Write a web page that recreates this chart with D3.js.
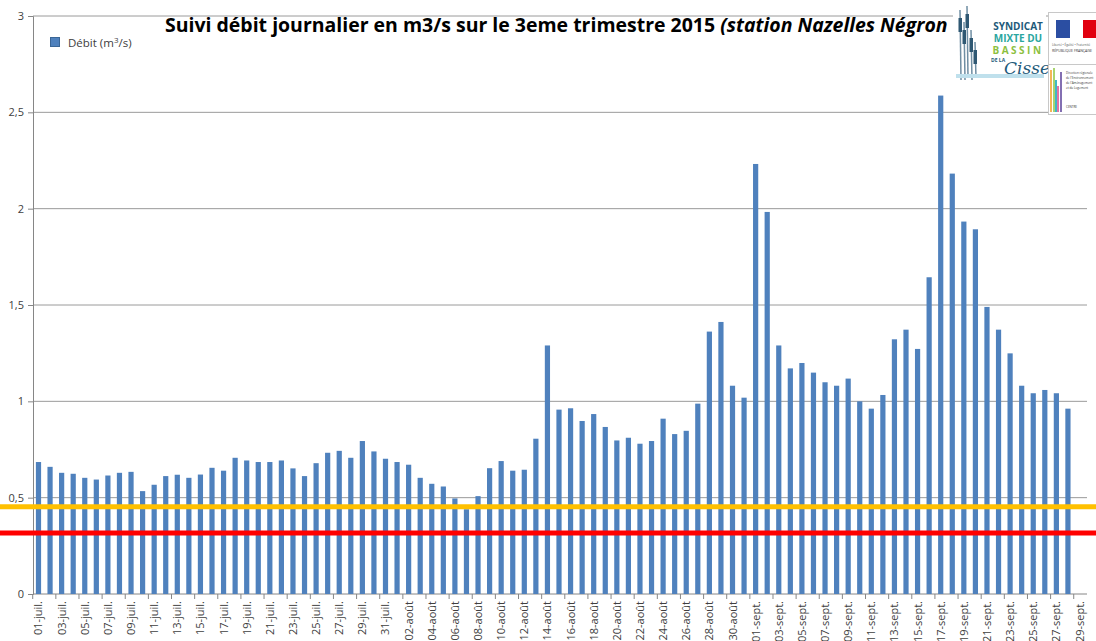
<!doctype html>
<html>
<head>
    <meta charset="utf-8">
    <script src="https://d3js.org/d3.v7.min.js"></script>
</head>
<style>
    body { margin: 0; background: #fff; }
    svg text { font-family: "Open Sans", "DejaVu Sans", sans-serif; fill: #404040; }
</style>
<body>
<script>
    // daily flow, m3/s
    var monthNames = ["juil.", "août", "sept."];
    var monthDays = [31, 31, 29];
    var julyValues = [0.685, 0.66, 0.629, 0.624, 0.603, 0.594, 0.615, 0.629, 0.634, 0.534,
                      0.567, 0.612, 0.619, 0.603, 0.62, 0.655, 0.64, 0.707, 0.693, 0.685,
                      0.685, 0.693, 0.652, 0.612, 0.679, 0.733, 0.743, 0.707, 0.794, 0.74, 0.702];
    var augustValues = [0.685, 0.671, 0.603, 0.572, 0.558, 0.496, 0.44, 0.508, 0.653, 0.69,
                        0.64, 0.645, 0.806, 1.29, 0.957, 0.964, 0.898, 0.934, 0.867, 0.797,
                        0.811, 0.78, 0.794, 0.91, 0.83, 0.847, 0.988, 1.362, 1.412, 1.081, 1.019];
    var septemberValues = [2.232, 1.983, 1.29, 1.171, 1.199, 1.149, 1.099, 1.081, 1.118, 1.0,
                           0.962, 1.033, 1.322, 1.372, 1.272, 1.644, 2.587, 2.182, 1.933, 1.893,
                           1.49, 1.372, 1.249, 1.081, 1.042, 1.059, 1.042, 0.962, null];
    var yTicks = [0, 0.5, 1, 1.5, 2, 2.5, 3];
    var alertLevel = 0.453;   // yellow line
    var crisisLevel = 0.316;  // red line

    var days = [];
    monthNames.forEach(function(m, mi) {
        for (var d = 1; d <= monthDays[mi]; d++) {
            days.push((d < 10 ? "0" : "") + d + "-" + m);
        }
    });
    var values = julyValues.concat(augustValues, septemberValues);
    var data = days.map(function(d, i) { return { day: d, value: values[i] }; });

    var width = 1096, height = 641;
    var svg = d3.select("body").append("svg")
        .attr("width", width)
        .attr("height", height);

    var x = d3.scaleBand().domain(days).range([33, 1085]).paddingInner(0.55).paddingOuter(0.25);
    var y = d3.scaleLinear().domain([0, 3]).range([594, 16]);

    // gridlines
    svg.selectAll("line.grid")
        .data(yTicks)
        .enter().append("line")
        .attr("class", "grid")
        .attr("x1", 33).attr("x2", 1087)
        .attr("y1", function(d) { return y(d); })
        .attr("y2", function(d) { return y(d); })
        .attr("stroke", function(d) { return d === 0 ? "#868686" : "#9a9a9a"; })
        .attr("stroke-width", 1);

    // y axis
    var yAxis = svg.append("g")
        .attr("transform", "translate(33,0)")
        .call(d3.axisLeft(y).tickValues(yTicks).tickSize(5)
            .tickFormat(function(d) { return String(d).replace(".", ","); }));
    yAxis.select(".domain").attr("stroke", "#868686");
    yAxis.selectAll(".tick line").attr("stroke", "#868686");
    yAxis.selectAll(".tick text").attr("x", -9).style("font-size", "11px").attr("fill", "#404040");

    // bars
    svg.selectAll("rect.bar")
        .data(data.filter(function(d) { return d.value != null; }))
        .enter().append("rect")
        .attr("class", "bar")
        .attr("x", function(d) { return x(d.day); })
        .attr("width", x.bandwidth())
        .attr("y", function(d) { return y(d.value); })
        .attr("height", function(d) { return y(0) - y(d.value); })
        .attr("fill", "#4F81BD");

    // x axis: tick every 2 days, label on odd positions
    var step = x.step();
    var xg = svg.append("g");
    xg.selectAll("line.xtick")
        .data(days.filter(function(d, i) { return i % 2 === 0; }))
        .enter().append("line")
        .attr("x1", function(d) { return x(d) - step * 0.275; })
        .attr("x2", function(d) { return x(d) - step * 0.275; })
        .attr("y1", 594).attr("y2", 599)
        .attr("stroke", "#868686");
    xg.selectAll("text")
        .data(days.filter(function(d, i) { return i % 2 === 0; }))
        .enter().append("text")
        .attr("transform", function(d) {
            return "translate(" + (x(d) + x.bandwidth() / 2 + 4) + ",601) rotate(-90)";
        })
        .attr("text-anchor", "end")
        .style("font-size", "11px")
        .text(function(d) { return d; });

    // threshold lines across the whole picture
    svg.append("line")
        .attr("x1", 0).attr("x2", width)
        .attr("y1", y(alertLevel)).attr("y2", y(alertLevel))
        .attr("stroke", "#FFC000").attr("stroke-width", 5);
    svg.append("line")
        .attr("x1", 0).attr("x2", width)
        .attr("y1", y(crisisLevel)).attr("y2", y(crisisLevel))
        .attr("stroke", "#FF0000").attr("stroke-width", 5);

    // legend
    svg.append("rect")
        .attr("x", 50.5).attr("y", 37.5).attr("width", 9).attr("height", 9)
        .attr("fill", "#4F81BD").attr("stroke", "#3A6696");
    svg.append("text")
        .attr("x", 68).attr("y", 47)
        .style("font-size", "11.5px")
        .html("Débit (m<tspan dy='-4' style='font-size:8px'>3</tspan><tspan dy='4'>/s)</tspan>");

    // title
    var title = svg.append("text")
        .attr("x", 165).attr("y", 32)
        .style("font-size", "18px")
        .style("font-weight", "bold")
        .style("fill", "#000");
    title.append("tspan").text("Suivi débit journalier en m3/s sur le 3eme trimestre 2015 ");
    title.append("tspan").style("font-style", "italic").text("(station Nazelles Négron");
    var tw = title.node().getComputedTextLength();
    title.style("font-size", (18 * 783 / tw) + "px");

    // logos (rough)
    var logo = svg.append("g");
    logo.append("rect").attr("x", 953).attr("y", 4).attr("width", 93).attr("height", 82).attr("fill", "#fff");
    [[960, 10, 80], [964, 22, 80], [967, 6, 78], [971, 30, 80], [975, 42, 78]].forEach(function(r) {
        logo.append("line").attr("x1", r[0]).attr("x2", r[0] + 1).attr("y1", r[1]).attr("y2", r[2])
            .attr("stroke", "#6f8ea3").attr("stroke-width", 1.5);
        logo.append("rect").attr("x", r[0] - 1.5).attr("y", r[1] + 8).attr("width", 3.5).attr("height", 14)
            .attr("fill", "#2f5873");
    });
    logo.append("rect").attr("x", 956).attr("y", 74).attr("width", 88).attr("height", 4).attr("fill", "#bfe0ec");
    var logoTexts = [
        { t: "SYNDICAT", y: 30, c: "#1d5a7a", ls: "0px" },
        { t: "MIXTE DU", y: 42, c: "#2aa6a0", ls: "0px" },
        { t: "BASSIN", y: 54, c: "#8dbf3f", ls: "2.5px" }
    ];
    logoTexts.forEach(function(l) {
        logo.append("text").attr("x", 1018).attr("y", l.y).attr("text-anchor", "middle")
            .style("font-size", "10px").style("font-weight", "bold").style("letter-spacing", l.ls)
            .style("fill", l.c).text(l.t);
    });
    logo.append("text").attr("x", 991).attr("y", 62)
        .style("font-size", "5px").style("font-weight", "bold").style("fill", "#1d5a7a").text("DE LA");
    logo.append("text").attr("x", 1004).attr("y", 74)
        .style("font-size", "17px").style("font-style", "italic").style("font-family", "DejaVu Serif")
        .style("fill", "#1d5a7a").text("Cisse");

    var rf = svg.append("g");
    rf.append("rect").attr("x", 1048.5).attr("y", 12.5).attr("width", 50).attr("height", 102)
        .attr("fill", "#fff").attr("stroke", "#c8c8c8");
    rf.append("line").attr("x1", 1048).attr("x2", 1096).attr("y1", 64.5).attr("y2", 64.5).attr("stroke", "#c8c8c8");
    rf.append("rect").attr("x", 1056).attr("y", 20).attr("width", 14).attr("height", 18).attr("fill", "#2b4ea2");
    rf.append("rect").attr("x", 1083).attr("y", 20).attr("width", 13).attr("height", 18).attr("fill", "#e1000f");
    rf.append("text").attr("x", 1052).attr("y", 46).style("font-size", "3px").style("fill", "#555").text("Liberté • Égalité • Fraternité");
    rf.append("text").attr("x", 1052).attr("y", 52).style("font-size", "3.5px").style("fill", "#333").text("RÉPUBLIQUE FRANÇAISE");
    [["#f29c1f", 1051, 70], ["#8dc63f", 1054, 68], ["#00a0b0", 1056, 80], ["#d9448b", 1058, 86], ["#5a3f99", 1061, 72]].forEach(function(c) {
        rf.append("line").attr("x1", c[1]).attr("x2", c[1]).attr("y1", c[2]).attr("y2", 112)
            .attr("stroke", c[0]).attr("stroke-width", 1.5);
    });
    ["Direction régionale", "de l'Environnement", "de l'Aménagement", "et du Logement"].forEach(function(t, i) {
        rf.append("text").attr("x", 1066).attr("y", 74 + i * 5).style("font-size", "3px").style("fill", "#333").text(t);
    });
    rf.append("text").attr("x", 1066).attr("y", 108).style("font-size", "3px").style("fill", "#333").text("CENTRE");
</script>
</body>
</html>
